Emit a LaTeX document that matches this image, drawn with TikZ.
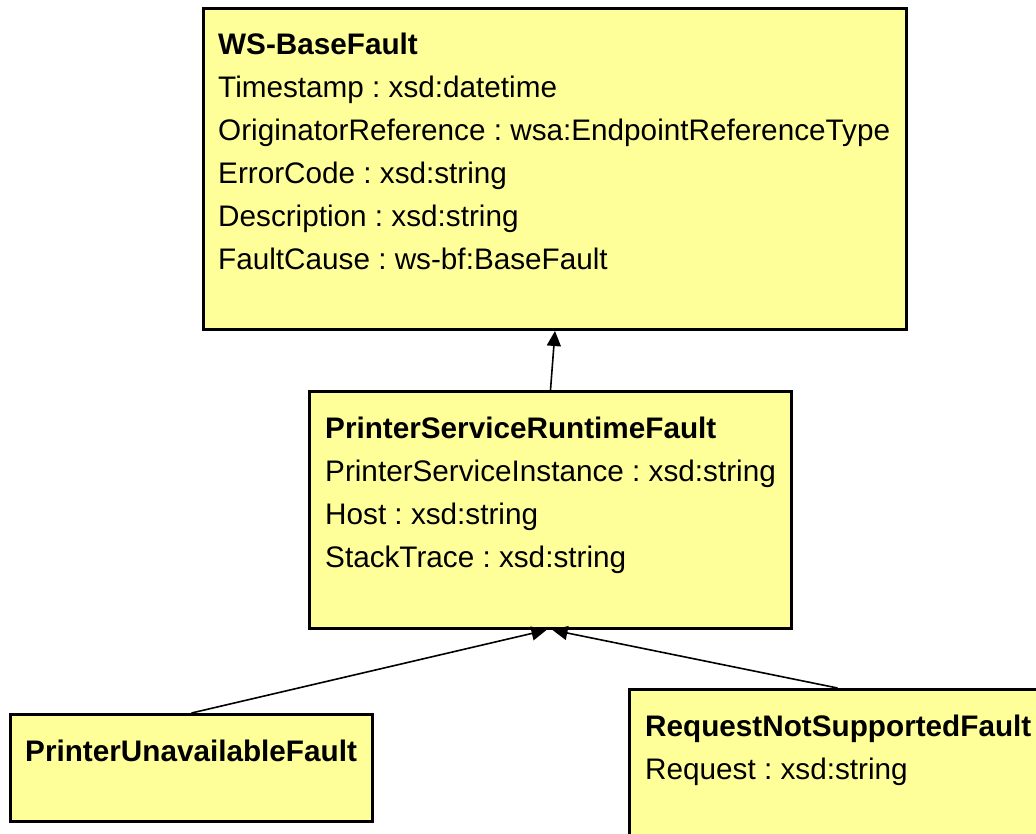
\documentclass[tikz,border=0pt]{standalone}
\usepackage{fontspec}
\setmainfont{Liberation Sans}
\usetikzlibrary{positioning}
\usetikzlibrary{arrows.meta}

\definecolor{classfill}{HTML}{FFFF99}

\tikzset{
  classbox/.style={draw=black, line width=3pt, fill=classfill, anchor=north west, inner sep=0pt},
  classtext/.style={anchor=north west, inner sep=0pt, align=left, font=\fontsize{29.7}{43}\selectfont},
  inherit/.style={line width=1.6pt, -{Triangle[length=15pt,width=14pt]}}
}
\frenchspacing

\begin{document}
\begin{tikzpicture}[x=1pt,y=-1pt]
\useasboundingbox (0,0) rectangle (1036,833);
\clip (0,0) rectangle (1036,833);

\node (base) [classbox, minimum width=703pt, minimum height=321pt] at (202,7) {};
\node (baseText) [classtext, below right=26pt and 16pt of base.north west]
  {\textbf{WS-BaseFault}\\
   Timestamp : xsd:datetime\\
   OriginatorReference : wsa:EndpointReferenceType\\
   ErrorCode : xsd:string\\
   Description : xsd:string\\
   FaultCause : ws-bf:BaseFault};

\node (runtime) [classbox, minimum width=482pt, minimum height=237pt] at (308,390) {};
\node (runtimeText) [classtext, below right=27pt and 17pt of runtime.north west]
  {\textbf{PrinterServiceRuntimeFault}\\
   PrinterServiceInstance : xsd:string\\
   Host : xsd:string\\
   StackTrace : xsd:string};

\node (unavail) [classbox, minimum width=362pt, minimum height=107pt] at (9,713) {};
\node (unavailText) [classtext, below right=27pt and 16pt of unavail.north west]
  {\textbf{PrinterUnavailableFault}};

\node (notsupp) [classbox, minimum width=416pt, minimum height=170pt] at (628,688) {};
\node (notsuppText) [classtext, below right=27pt and 17pt of notsupp.north west]
  {\textbf{RequestNotSupportedFault}\\
   Request : xsd:string};

%
\draw [inherit] (runtime.north) -- (base.south);
\draw [inherit] (unavail.north) -- ([xshift=-4pt]runtime.south);
\draw [inherit] (notsupp.north) -- ([xshift=2pt]runtime.south);
\end{tikzpicture}
\end{document}
